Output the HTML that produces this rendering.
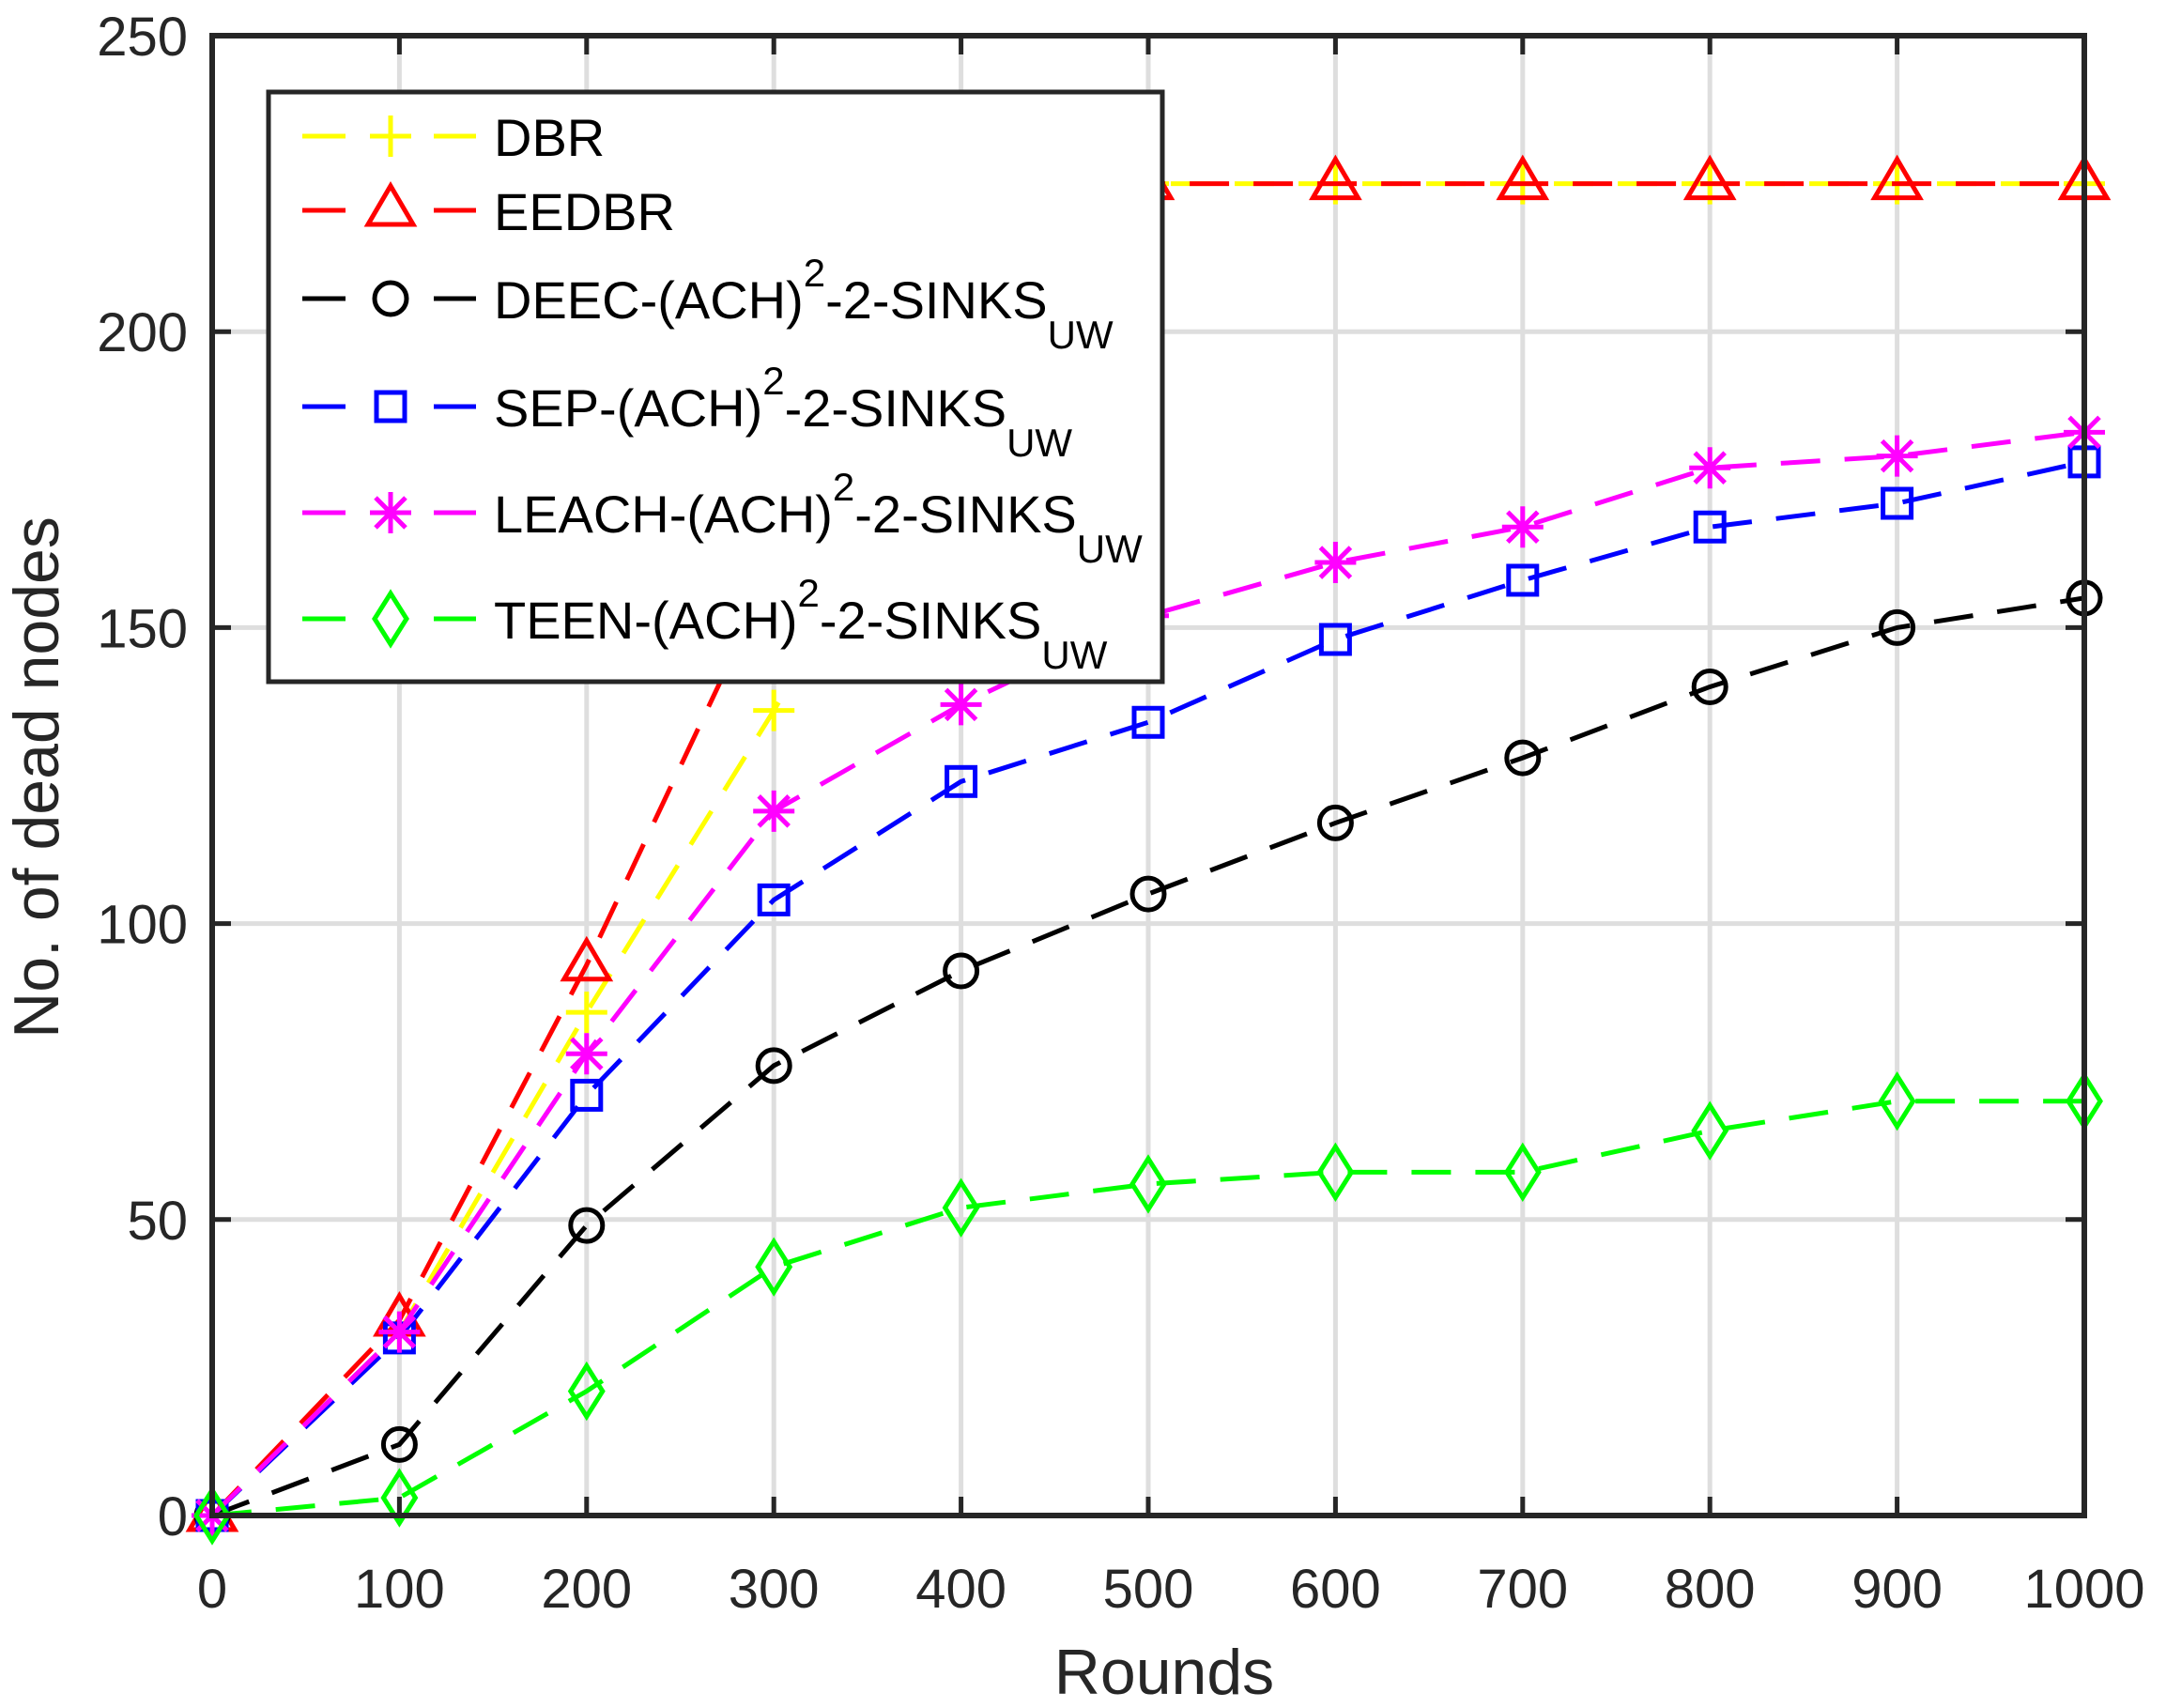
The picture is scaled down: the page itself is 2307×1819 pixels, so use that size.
<!DOCTYPE html>
<html><head><meta charset="utf-8"><style>
html,body{margin:0;padding:0;background:#fff;}
svg{display:block;font-family:"Liberation Sans",Arial,sans-serif;}
</style></head><body>
<svg id="s" width="2307" height="1819" viewBox="0 0 2307 1819" xmlns="http://www.w3.org/2000/svg">
<rect width="2307" height="1819" fill="#fff"/>
<g id="grid"></g>
<g id="series"></g>
<g id="axes"></g>
<g id="legend"></g>
<text x="1240" y="1804" font-size="68" fill="#262626" text-anchor="middle">Rounds</text>
<text transform="translate(62,828) rotate(-90)" font-size="68" fill="#262626" text-anchor="middle">No. of dead nodes</text>
</svg>
<script>
const NS="http://www.w3.org/2000/svg";
const L=226,R=2220,T=38,B=1614;
const X=v=>L+v*(R-L)/1000, Y=v=>B-v*(B-T)/250;
function el(p,tag,a,txt){const e=document.createElementNS(NS,tag);for(const k in a)e.setAttribute(k,a[k]);if(txt!==undefined)e.textContent=txt;p.appendChild(e);return e;}
const g=document.getElementById('grid'),ax=document.getElementById('axes'),sg=document.getElementById('series'),lg=document.getElementById('legend');
for(let i=1;i<10;i++)el(g,'line',{x1:X(i*100),x2:X(i*100),y1:T,y2:B,stroke:'#dedede','stroke-width':5});
for(let j=1;j<5;j++)el(g,'line',{x1:L,x2:R,y1:Y(j*50),y2:Y(j*50),stroke:'#dedede','stroke-width':5});
el(ax,'rect',{x:L,y:T,width:R-L,height:B-T,fill:'none',stroke:'#262626','stroke-width':6});
for(let i=0;i<=10;i++){const x=X(i*100);
 el(ax,'line',{x1:x,x2:x,y1:B,y2:B-20,stroke:'#262626','stroke-width':5});
 el(ax,'line',{x1:x,x2:x,y1:T,y2:T+20,stroke:'#262626','stroke-width':5});
 el(ax,'text',{x:x,y:1712,'font-size':58,fill:'#262626','text-anchor':'middle'},String(i*100));}
for(let j=0;j<=5;j++){const y=Y(j*50);
 el(ax,'line',{x1:L,x2:L+20,y1:y,y2:y,stroke:'#262626','stroke-width':5});
 el(ax,'line',{x1:R,x2:R-20,y1:y,y2:y,stroke:'#262626','stroke-width':5});
 el(ax,'text',{x:200,y:y+21,'font-size':58,fill:'#262626','text-anchor':'end'},String(j*50));}
const xs=[0,100,200,300,400,500,600,700,800,900,1000];
const S=[
 {c:'#ffff00',m:'plus',d:[0,31,85,136,190,225,225,225,225,225,225]},
 {c:'#ff0000',m:'tri',d:[0,33,93,160,215,225,225,225,225,225,225]},
 {c:'#000000',m:'circ',d:[0,12,49,76,92,105,117,128,140,150,155]},
 {c:'#0000ff',m:'sq',d:[0,30,71,104,124,134,148,158,167,171,178]},
 {c:'#ff00ff',m:'star',d:[0,31,78,119,137,152,161,167,177,179,183]},
 {c:'#00ff00',m:'dia',d:[0,3,21,42,52,56,58,58,65,70,70]}];
function marker(p,m,x,y,c){const a={fill:'none',stroke:c,'stroke-width':5};
 if(m==='plus'){el(p,'path',Object.assign({d:`M${x-22},${y}H${x+22}M${x},${y-22}V${y+22}`},a));}
 else if(m==='tri'){el(p,'path',Object.assign({d:`M${x},${y-26}L${x+24},${y+15}L${x-24},${y+15}Z`},a));}
 else if(m==='circ'){el(p,'circle',Object.assign({cx:x,cy:y,r:17},a));}
 else if(m==='sq'){el(p,'rect',Object.assign({x:x-15,y:y-15,width:30,height:30},a));}
 else if(m==='star'){el(p,'path',Object.assign({d:`M${x-22},${y}H${x+22}M${x},${y-22}V${y+22}M${x-16},${y-16}L${x+16},${y+16}M${x+16},${y-16}L${x-16},${y+16}`},a));}
 else if(m==='dia'){el(p,'path',Object.assign({d:`M${x},${y-27}L${x+17},${y}L${x},${y+27}L${x-17},${y}Z`},a));}}
S.forEach(s=>{const pts=xs.map((v,i)=>X(v)+','+Y(s.d[i])).join(' ');
 el(sg,'polyline',{points:pts,fill:'none',stroke:s.c,'stroke-width':5,'stroke-dasharray':'42 26'});
 xs.forEach((v,i)=>marker(sg,s.m,X(v),Y(s.d[i]),s.c));});
el(lg,'rect',{x:286,y:98,width:952,height:628,fill:'#fff',stroke:'#262626','stroke-width':5});
const names=[['DBR'],['EEDBR'],['DEEC-(ACH)','-2-SINKS'],['SEP-(ACH)','-2-SINKS'],['LEACH-(ACH)','-2-SINKS'],['TEEN-(ACH)','-2-SINKS']];
const ly=[145,224,318,433,546,659];
S.forEach((s,i)=>{const y=ly[i];
 el(lg,'line',{x1:322,x2:368,y1:y,y2:y,stroke:s.c,'stroke-width':5});
 el(lg,'line',{x1:462,x2:507,y1:y,y2:y,stroke:s.c,'stroke-width':5});
 marker(lg,s.m,416,y,s.c);
 const t=el(lg,'text',{x:526,y:y+21,'font-size':56,fill:'#000'});
 const n=names[i];
 const t1=document.createElementNS(NS,'tspan');t1.textContent=n[0];t.appendChild(t1);
 if(n.length>1){
  const sup=document.createElementNS(NS,'tspan');sup.setAttribute('dy','-34');sup.setAttribute('font-size','42');sup.textContent='2';t.appendChild(sup);
  const t2=document.createElementNS(NS,'tspan');t2.setAttribute('dy','34');t2.textContent=n[1];t.appendChild(t2);
  const sub=document.createElementNS(NS,'tspan');sub.setAttribute('dy','32');sub.setAttribute('font-size','42');sub.textContent='UW';t.appendChild(sub);}
});
</script>
</body></html>
